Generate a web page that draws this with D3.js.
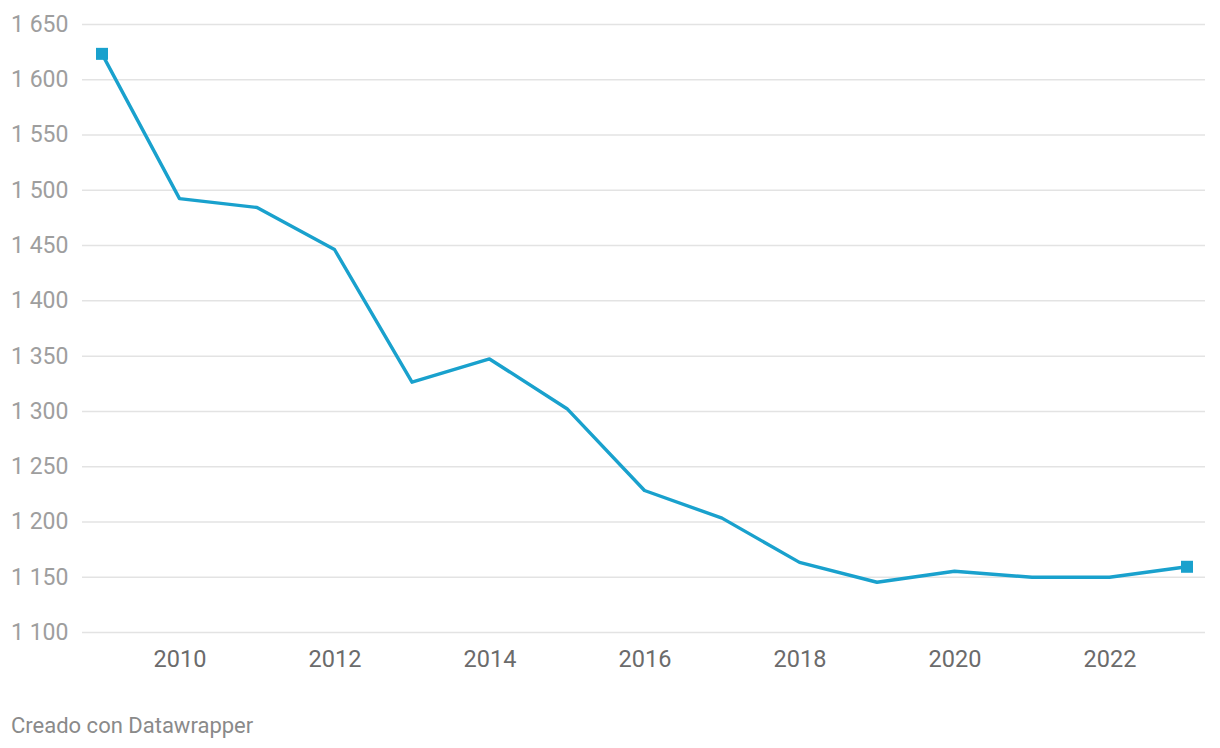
<!DOCTYPE html>
<html><head><meta charset="utf-8">
<script src="https://cdn.jsdelivr.net/npm/d3@7"></script>
<style>
body{margin:0;background:#fff;font-family:Roboto,"Noto Sans",sans-serif;}
</style></head>
<body><svg id="c" width="1220" height="748"></svg>
<script>
const years = [2009,2010,2011,2012,2013,2014,2015,2016,2017,2018,2019,2020,2021,2022,2023];
const values = [1623,1492,1484,1446,1326,1347,1302,1228,1203,1163,1145,1155,1149.5,1149.5,1159];
const yTicks = [1100,1150,1200,1250,1300,1350,1400,1450,1500,1550,1600,1650];
const xTicks = [2010,2012,2014,2016,2018,2020,2022];
const footer = "Creado con Datawrapper";

const svg = d3.select("#c");
const x = d3.scaleLinear().domain([2009,2023]).range([102,1187]);
const y = d3.scaleLinear().domain([1100,1650]).range([632,24]);
const fmt = v => d3.format(",")(v).replace(/,/g," ");

const yAxis = svg.append("g").attr("transform","translate(82,0)")
  .call(d3.axisLeft(y).tickValues(yTicks).tickSize(-1123).tickFormat(fmt));
yAxis.select(".domain").remove();
yAxis.selectAll(".tick line").attr("stroke","#e3e3e3").attr("stroke-width",1.5);
yAxis.selectAll(".tick text").attr("x",-71).attr("text-anchor","start")
  .attr("fill","#9e9e9e").style("font-size","23px").style("font-family","Roboto");

const xAxis = svg.append("g").attr("transform","translate(0,645)")
  .call(d3.axisBottom(x).tickValues(xTicks).tickSize(0).tickFormat(d3.format("d")));
xAxis.select(".domain").remove();
xAxis.selectAll(".tick text").attr("y",22).attr("dy",0)
  .attr("fill","#6b6b6b").style("font-size","23.5px").style("font-family","Roboto");

const data = years.map((yr,i)=>({yr,v:values[i]}));
svg.append("path").datum(data)
  .attr("fill","none").attr("stroke","#19a1cd").attr("stroke-width",3.4)
  .attr("stroke-linejoin","round")
  .attr("d",d3.line().x(d=>x(d.yr)).y(d=>y(d.v)));

const ends = [data[0], data[data.length-1]];
svg.selectAll("rect.m").data(ends).enter().append("rect")
  .attr("x",d=>x(d.yr)-6).attr("y",d=>y(d.v)-6).attr("width",12).attr("height",12)
  .attr("fill","#19a1cd");

svg.append("text").attr("x",11).attr("y",733).text(footer)
  .attr("fill","#8a8a8a").style("font-size","22px").style("font-family","Roboto");
</script></body></html>
